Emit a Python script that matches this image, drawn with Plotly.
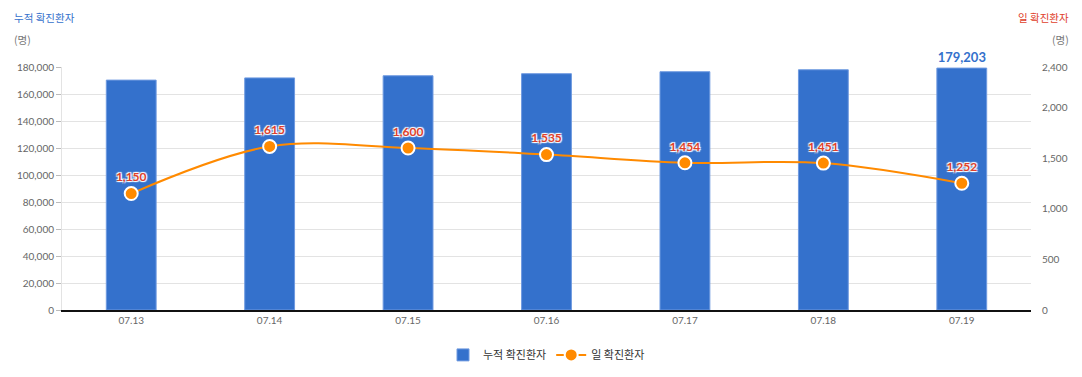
import plotly.graph_objects as go

dates = ["07.13", "07.14", "07.15", "07.16", "07.17", "07.18", "07.19"]
cumulative = [170296, 171911, 173511, 175046, 176500, 177951, 179203]
daily = [1150, 1615, 1600, 1535, 1454, 1451, 1252]
left_ticks = [0, 20000, 40000, 60000, 80000, 100000, 120000, 140000, 160000, 180000]
right_ticks = [0, 500, 1000, 1500, 2000, 2400]

FONT = "Lato, 'Noto Sans CJK KR', sans-serif"
KFONT = "'Noto Sans CJK KR', Lato, sans-serif"
BLUE = "#3471cc"
ORANGE = "#ff8a00"
RED = "#e0402a"

W, H = 1082, 377
l, r, t, b = 62, 51, 67, 67
pw, ph = W - l - r, H - t - b

bar_text = ["" for _ in cumulative]
bar_text[-1] = f"{cumulative[-1]:,}"

fig = go.Figure()
fig.add_trace(go.Bar(
    x=dates, y=cumulative, name="누적 확진환자",
    marker=dict(color=BLUE, line=dict(color="#6f9ae0", width=1)),
    width=0.36,
    text=bar_text, textposition="outside",
    textfont=dict(color=BLUE, size=13, family=FONT, weight="bold"),
    cliponaxis=False, yaxis="y",
))
fig.add_trace(go.Scatter(
    x=dates, y=daily, name="일 확진환자", yaxis="y2",
    mode="lines+markers+text",
    line=dict(color=ORANGE, width=2, shape="spline", smoothing=1.0),
    marker=dict(color=ORANGE, size=13, line=dict(color="white", width=2)),
    text=[f"{v:,}" for v in daily], textposition="top center",
    textfont=dict(color=RED, size=12, family=FONT, weight="bold",
                  shadow="1px 1px 1px #fff, -1px -1px 1px #fff, 1px -1px 1px #fff, -1px 1px 1px #fff"),
    cliponaxis=False,
))

specs = [
    ("누적 확진환자", 12, 17, "left", BLUE),
    ("(명)", 12, 40, "left", "#777"),
    ("일 확진환자", 1071, 17, "right", RED),
    ("(명)", 1071, 40, "right", "#777"),
]
anns = []
for txt, px, py, anchor, col in specs:
    anns.append(dict(
        text=txt, xref="paper", yref="paper",
        x=(px - l) / pw, y=1 - (py - t) / ph,
        xanchor=anchor, yanchor="middle", showarrow=False,
        font=dict(family=KFONT, size=10.5, color=col),
    ))

fig.update_layout(
    width=W, height=H,
    margin=dict(l=l, r=r, t=t, b=b, autoexpand=False),
    paper_bgcolor="white", plot_bgcolor="white",
    font=dict(family=FONT, size=10, color="#666"),
    xaxis=dict(
        type="category", range=[-0.5, 6.5], automargin=False,
        showline=True, linecolor="#111", linewidth=1.5,
        showgrid=False, ticks="", tickfont=dict(size=10, color="#666"),
    ),
    yaxis=dict(
        range=[0, 180000], tickvals=left_ticks, automargin=False,
        tickformat=",d", showgrid=True, gridcolor="#e3e3e3",
        ticks="outside", ticklen=5, tickcolor="#bbb",
        showline=True, linecolor="#e3e3e3", zeroline=False,
        tickfont=dict(size=10, color="#666"),
    ),
    yaxis2=dict(
        range=[0, 2400], tickvals=right_ticks, tickformat=",d", automargin=False,
        overlaying="y", side="right", showgrid=False, zeroline=False,
        ticks="", ticklabelstandoff=10,
        tickfont=dict(size=10, color="#666"),
    ),
    legend=dict(
        orientation="h", x=0.5, xanchor="center", y=-0.125, yanchor="top",
        font=dict(family=KFONT, size=11, color="#333"),
        traceorder="normal",
    ),
    showlegend=True,
    annotations=anns,
)

fig.write_html("out.html", config={"displayModeBar": False},
               post_script="document.body.style.margin='0';")
